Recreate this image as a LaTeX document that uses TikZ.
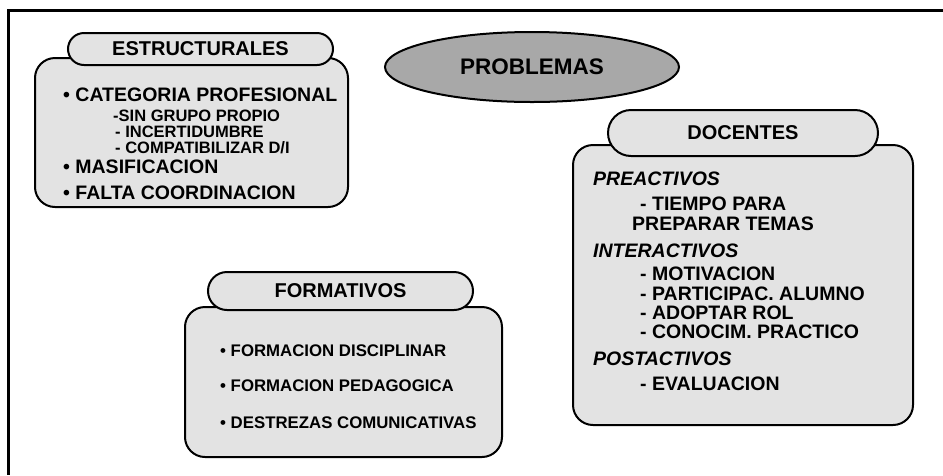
\documentclass[tikz,border=0pt]{standalone}
\usepackage{fontspec}
\setmainfont{Liberation Sans}
\usetikzlibrary{shapes.geometric,shapes.misc}
\definecolor{boxgray}{gray}{0.89}
\definecolor{ellgray}{gray}{0.66}
\tikzset{
  box/.style={draw, line width=2pt, fill=boxgray, rounded corners=20pt, inner sep=0pt},
  tab/.style={draw, line width=2pt, fill=boxgray, rounded rectangle, inner sep=0pt,
    font=\fontsize{20}{24}\selectfont\bfseries},
  itm/.style={anchor=base west, inner sep=0pt, font=\fontsize{19.5}{22}\selectfont\bfseries},
  hdr/.style={anchor=base west, inner sep=0pt, font=\fontsize{19.5}{22}\selectfont\bfseries\itshape},
  sub/.style={anchor=base west, inner sep=0pt, font=\fontsize{16.5}{19}\selectfont\bfseries},
  fitm/.style={anchor=base west, inner sep=0pt, font=\fontsize{16.8}{19}\selectfont\bfseries},
}
\begin{document}
\begin{tikzpicture}[x=1pt,y=-1pt]
\useasboundingbox (0,0) rectangle (943,475);
% frame
\draw[line width=3pt] (943,10) -- (8,10) -- (8,475);

% PROBLEMAS
\node[ellipse, draw, line width=2pt, fill=ellgray, minimum width=294pt, minimum height=70pt,
  inner sep=0pt, font=\fontsize{22.5}{26}\selectfont\bfseries] (prob) at (532,67) {PROBLEMAS};

% ESTRUCTURALES
\node[box, minimum width=313pt, minimum height=149pt] (estbox) at (191.5,132.5) {};
\node[tab, minimum width=265pt, minimum height=32pt] (esttab) at (200.5,49) {ESTRUCTURALES};
\node[itm] (e1) at (63,101) {• CATEGORIA PROFESIONAL};
\node[sub] (e1a) at (113,121) {-SIN GRUPO PROPIO};
\node[sub] (e1b) at (115,137) {- INCERTIDUMBRE};
\node[sub] (e1c) at (115,153) {- COMPATIBILIZAR D/I};
\node[itm] (e2) at (63,173) {• MASIFICACION};
\node[itm] (e3) at (63,199) {• FALTA COORDINACION};

% DOCENTES
\node[box, minimum width=340pt, minimum height=280pt] (docbox) at (743,285) {};
\node[tab, minimum width=270pt, minimum height=46pt] (doctab) at (743,133) {DOCENTES};
\node[hdr] (d1) at (593,185) {PREACTIVOS};
\node[itm] (d1a) at (640,210) {- TIEMPO PARA};
\node[itm] (d1b) at (632,230) {PREPARAR TEMAS};
\node[hdr] (d2) at (593,257) {INTERACTIVOS};
\node[itm] (d2a) at (640,280) {- MOTIVACION};
\node[itm] (d2b) at (640,300) {- PARTICIPAC. ALUMNO};
\node[itm] (d2c) at (640,319) {- ADOPTAR ROL};
\node[itm] (d2d) at (640,338) {- CONOCIM. PRACTICO};
\node[hdr] (d3) at (593,365) {POSTACTIVOS};
\node[itm] (d3a) at (640,390) {- EVALUACION};

% FORMATIVOS
\node[box, minimum width=317pt, minimum height=150pt] (forbox) at (343.5,382) {};
\node[tab, minimum width=265pt, minimum height=38pt] (fortab) at (340.5,291) {FORMATIVOS};
\node[fitm] (f1) at (220,356) {• FORMACION DISCIPLINAR};
\node[fitm] (f2) at (220,391) {• FORMACION PEDAGOGICA};
\node[fitm] (f3) at (220,428) {• DESTREZAS COMUNICATIVAS};
\end{tikzpicture}
\end{document}
